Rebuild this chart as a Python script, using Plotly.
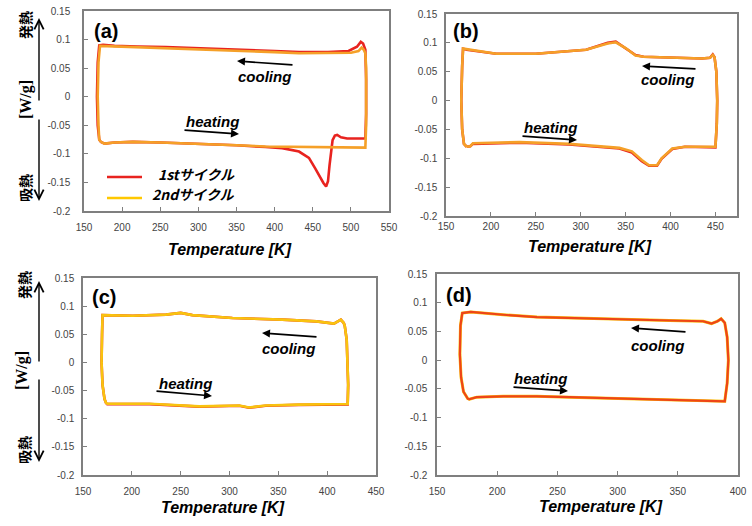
import plotly.graph_objects as go

W_PX, H_PX = 752, 526

# ---------------- data ----------------
# Panel (a): 1st cycle (red)
a1_T = [172, 177, 190, 214, 250, 301, 350, 388, 410, 432, 445, 453, 460, 464, 467.5, 470, 472, 474, 476, 479, 482, 487, 495, 519,
        520, 520, 519.5, 519, 516, 513, 508, 497, 470, 432, 400, 344, 300, 257, 220, 190, 175, 170,
        168, 167, 168, 170, 172]
a1_W = [-0.079, -0.082, -0.080, -0.079, -0.080, -0.082, -0.085, -0.088, -0.090, -0.096, -0.107, -0.125, -0.142, -0.151, -0.157, -0.148, -0.120, -0.093, -0.076, -0.068, -0.067, -0.071, -0.073, -0.073,
        -0.03, 0.03, 0.075, 0.082, 0.093, 0.096, 0.0875, 0.080, 0.078, 0.078, 0.080, 0.083, 0.085, 0.087, 0.088, 0.089, 0.091, 0.090,
        0.06, 0.0, -0.05, -0.075, -0.079]
# Panel (a): 2nd cycle (orange)
a2_T = [172, 177, 190, 214, 250, 301, 350, 388, 430, 475, 505, 519,
        520, 520, 520, 519, 517, 514, 510, 500, 470, 432, 400, 344, 300, 257, 220, 190, 175, 171,
        169, 168, 169, 170, 172]
a2_W = [-0.079, -0.082, -0.080, -0.079, -0.080, -0.082, -0.085, -0.087, -0.088, -0.0885, -0.089, -0.089,
        -0.05, 0.0, 0.05, 0.076, 0.082, 0.086, 0.080, 0.077, 0.076, 0.076, 0.078, 0.081, 0.083, 0.085, 0.087, 0.088, 0.090, 0.089,
        0.06, 0.0, -0.05, -0.075, -0.079]

# Panel (b)
b1_T = [173, 177, 180, 232, 287, 343, 357, 368, 376, 385, 390, 402, 416, 450,
        451.5, 452, 451, 449, 447, 444, 435, 400, 370, 361, 350, 339, 330, 306, 250, 206, 173, 169,
        168, 167, 168, 170, 173]
b1_W = [-0.080, -0.079, -0.075, -0.073, -0.076, -0.083, -0.090, -0.105, -0.113, -0.113, -0.101, -0.084, -0.080, -0.081,
        -0.04, 0.0, 0.05, 0.075, 0.080, 0.074, 0.073, 0.074, 0.076, 0.079, 0.091, 0.102, 0.100, 0.088, 0.081, 0.081, 0.088, 0.090,
        0.06, 0.0, -0.05, -0.075, -0.080]
b2_T = [173, 177, 180, 232, 287, 343, 357, 368, 376, 385, 390, 402, 416, 450,
        451.5, 452, 451, 449, 447, 444, 435, 400, 370, 361, 350, 339, 330, 306, 250, 206, 173, 169,
        168, 167, 168, 170, 173]
b2_W = [-0.080, -0.079, -0.074, -0.072, -0.075, -0.082, -0.088, -0.103, -0.112, -0.112, -0.100, -0.083, -0.080, -0.080,
        -0.04, 0.0, 0.05, 0.075, 0.079, 0.074, 0.073, 0.074, 0.076, 0.078, 0.091, 0.101, 0.099, 0.088, 0.081, 0.081, 0.088, 0.090,
        0.06, 0.0, -0.05, -0.075, -0.080]

# Panel (c)
c1_T = [174, 177, 218, 269, 310, 320, 337, 371, 421,
        421.5, 421, 420, 418, 417, 414, 407, 389, 354, 303, 262, 250, 235, 201, 172, 170,
        169.5, 169, 170, 172, 174]
c1_W = [-0.074, -0.074, -0.074, -0.0785, -0.077, -0.0805, -0.077, -0.0755, -0.0745,
        -0.04, 0.0, 0.04, 0.065, 0.070, 0.076, 0.069, 0.073, 0.076, 0.079, 0.084, 0.088, 0.085, 0.083, 0.085, 0.084,
        0.05, 0.0, -0.04, -0.065, -0.074]
c2_T = [174, 177, 218, 269, 310, 320, 337, 371, 421,
        421.5, 421, 420, 418, 417, 414, 407, 389, 354, 303, 262, 250, 235, 201, 172, 170,
        169.5, 169, 170, 172, 174]
c2_W = [-0.0735, -0.0735, -0.0735, -0.078, -0.0765, -0.080, -0.0765, -0.075, -0.074,
        -0.04, 0.0, 0.04, 0.065, 0.070, 0.076, 0.069, 0.073, 0.076, 0.079, 0.084, 0.088, 0.085, 0.083, 0.085, 0.084,
        0.05, 0.0, -0.04, -0.065, -0.0735]

# Panel (d)
d1_T = [176, 183, 205, 233, 260, 288, 316, 357, 389,
        391, 392, 391, 389, 386, 383, 378, 371, 343, 316, 288, 260, 233, 205, 178, 171,
        169.5, 169, 170, 172, 176]
d1_W = [-0.0686, -0.0645, -0.063, -0.063, -0.0645, -0.066, -0.0675, -0.0686, -0.0716,
        -0.04, 0.0, 0.04, 0.065, 0.072, 0.0677, 0.0637, 0.0677, 0.069, 0.0705, 0.072, 0.0735, 0.075, 0.079, 0.084, 0.082,
        0.06, 0.01, -0.03, -0.055, -0.0686]
d2_T = [176, 183, 205, 233, 260, 288, 316, 357, 389,
        391, 392, 391, 389, 386, 383, 378, 371, 343, 316, 288, 260, 233, 205, 178, 171,
        169.5, 169, 170, 172, 176]
d2_W = [-0.0686, -0.0645, -0.063, -0.063, -0.0645, -0.066, -0.0675, -0.0686, -0.0716,
        -0.04, 0.0, 0.04, 0.065, 0.072, 0.0677, 0.0637, 0.0677, 0.069, 0.0705, 0.072, 0.0735, 0.075, 0.079, 0.084, 0.082,
        0.06, 0.01, -0.03, -0.055, -0.0686]

y_ticks = [0.15, 0.1, 0.05, 0, -0.05, -0.1, -0.15, -0.2]
y_ticklabels = ["0.15", "0.1", "0.05", "0", "-0.05", "-0.1", "-0.15", "-0.2"]
xa_ticks = [150, 200, 250, 300, 350, 400, 450, 500, 550]
xb_ticks = [150, 200, 250, 300, 350, 400, 450]
xc_ticks = [150, 200, 250, 300, 350, 400, 450]
xd_ticks = [150, 200, 250, 300, 350, 400]
x_title = "Temperature [K]"
legend_labels = ["1stサイクル", "2ndサイクル"]

RED = "#e8231f"
ORANGE = "#f5a028"
YELLOW = "#f9c30f"
REDORANGE = "#ee4418"
LEG_YELLOW = "#ffc800"

def P(px, py):
    return px / W_PX, 1 - py / H_PX

# panel boxes in pixels: (left, right, top, bottom)
boxes = {
    "a": (84, 389, 11, 211),
    "b": (446, 737, 14, 216),
    "c": (83, 376, 278, 475),
    "d": (437, 738, 274, 475),
}

fig = go.Figure()

def add(T, Wv, color, ax, width=2.6):
    fig.add_trace(go.Scatter(x=T, y=Wv, mode="lines", line=dict(color=color, width=width),
                             xaxis="x" + ax, yaxis="y" + ax, showlegend=False, hoverinfo="skip"))

add(a1_T, a1_W, RED, "")
add(a2_T, a2_W, ORANGE, "")
add(b1_T, b1_W, RED, "2")
add(b2_T, b2_W, ORANGE, "2")
add(c1_T, c1_W, RED, "3")
add(c2_T, c2_W, YELLOW, "3")
add(d1_T, d1_W, YELLOW, "4", 3.0)
add(d2_T, d2_W, REDORANGE, "4", 2.2)

layout = dict(width=W_PX, height=H_PX, margin=dict(l=0, r=0, t=0, b=0, autoexpand=False),
              paper_bgcolor="white", plot_bgcolor="white", showlegend=False)

panel_axes = [("a", "", [150, 550], xa_ticks, 6, 10),
              ("b", "2", [150, 474], xb_ticks, 0, 5),
              ("c", "3", [150, 450], xc_ticks, 6, 5),
              ("d", "4", [150, 400], xd_ticks, 6, 6)]

tickfont = dict(family="Liberation Sans, Arial, sans-serif", size=10, color="#444444")
for key, suf, xr, xt, xstand, ystand in panel_axes:
    l, r, t, b = boxes[key]
    common = dict(showline=True, linecolor="#7f7f7f", linewidth=1.5, mirror=True, showgrid=False,
                  zeroline=False, ticks="inside", ticklen=4, tickcolor="#7f7f7f", tickfont=tickfont,
                  automargin=False)
    layout["xaxis" + suf] = dict(domain=[l / W_PX, r / W_PX], range=xr, tickvals=xt,
                                 ticktext=[str(v) for v in xt], anchor="y" + suf,
                                 ticklabelstandoff=xstand, **common)
    layout["yaxis" + suf] = dict(domain=[1 - b / H_PX, 1 - t / H_PX], range=[-0.2, 0.15],
                                 tickvals=y_ticks, ticktext=y_ticklabels, anchor="x" + suf,
                                 ticklabelstandoff=ystand, **common)

fig.update_layout(**layout)

ann = []
shapes = []
TXT = "Liberation Sans, Arial, sans-serif"

def text(px, py, s, size, family=TXT, angle=0, color="black", weight="bold"):
    x, y = P(px, py)
    ann.append(dict(x=x, y=y, xref="paper", yref="paper", text=s, showarrow=False,
                    font=dict(family=family, size=size, color=color, weight=weight), textangle=angle,
                    xanchor="center", yanchor="middle"))

def arrow(tx, ty, hx, hy, width=1.6, head=2, size=1.0):
    x, y = P(hx, hy)
    ann.append(dict(x=x, y=y, xref="paper", yref="paper", text="", showarrow=True,
                    ax=tx - hx, ay=ty - hy, arrowhead=head, arrowsize=size, arrowwidth=width,
                    arrowcolor="black"))

# panel labels
for lab, (px, py) in {"(a)": (106, 31), "(b)": (466, 31), "(c)": (104, 297), "(d)": (459, 295)}.items():
    text(px, py, "<b>" + lab + "</b>", 20)

# cooling / heating labels and arrows
labels = {
    "a": dict(cool=(264, 76), cool_arrow=(294, 65, 237, 61), heat=(212, 122), heat_arrow=(183, 130, 239, 134)),
    "b": dict(cool=(667, 80), cool_arrow=(697, 69, 642, 66), heat=(550, 127), heat_arrow=(521, 136, 577, 140)),
    "c": dict(cool=(288, 348), cool_arrow=(318, 337, 262, 333), heat=(185, 383), heat_arrow=(155, 391, 212, 396)),
    "d": dict(cool=(657, 345), cool_arrow=(687, 332, 631, 328), heat=(540, 378), heat_arrow=(512, 387, 568, 391)),
}
for k, v in labels.items():
    text(*v["cool"], "<b><i>cooling</i></b>", 15)
    text(*v["heat"], "<b><i>heating</i></b>", 15)
    arrow(*v["cool_arrow"])
    arrow(*v["heat_arrow"])

# x axis titles
for px, py in [(230, 250), (590, 247), (223, 507), (601, 506)]:
    text(px, py, "<b><i>" + x_title + "</i></b>", 16)

# y-axis decoration for left panels
JP = "Noto Sans CJK JP, sans-serif"
for top_c, wg_c, bot_c, ax_x, up, down in [
        ((25, 25), (26, 100), (25, 188), 39, (102, 18), (118, 201)),
        ((24, 285), (22, 371), (24, 450), 39, (363, 281), (378, 462))]:
    text(*top_c, "<b>発熱</b>", 14, family=JP, angle=-90)
    text(*bot_c, "<b>吸熱</b>", 14, family=JP, angle=-90)
    text(*wg_c, "<b>[W/g]</b>", 16, family="Liberation Serif, DejaVu Serif, serif", angle=-90)
    arrow(ax_x, up[0], ax_x, up[1], width=1.4, head=5, size=1.3)
    arrow(ax_x, down[0], ax_x, down[1], width=1.4, head=5, size=1.3)

# legend in panel (a)
for (y_line, color), label, (tx, ty) in zip([(177, RED), (198, LEG_YELLOW)], legend_labels,
                                             [(196, 174), (193, 194)]):
    x0, y0 = P(107, y_line)
    x1, _ = P(142, y_line)
    shapes.append(dict(type="line", xref="paper", yref="paper", x0=x0, x1=x1, y0=y0, y1=y0,
                       line=dict(color=color, width=2.5)))
    text(tx, ty, "<b><i>" + label + "</i></b>", 14, family=JP)

fig.update_layout(annotations=ann, shapes=shapes)
fig.write_html("out.html")
